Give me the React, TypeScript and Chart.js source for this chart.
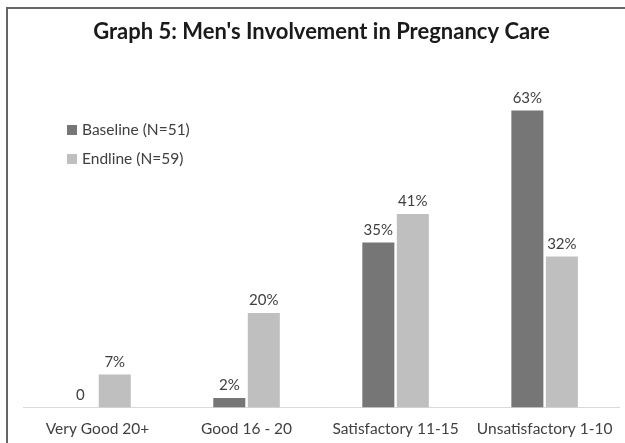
import React, { useEffect, useRef } from "react";
import { Chart, registerables } from "chart.js";

Chart.register(...registerables);

const categories = ["Very Good 20+", "Good 16 - 20", "Satisfactory 11-15", "Unsatisfactory 1-10"];
const baselineValues = [0, 2, 35, 63];
const endlineValues = [7, 20, 41, 32];
const baselineLabels = ["0", "2%", "35%", "63%"];
const endlineLabels = ["7%", "20%", "41%", "32%"];
const seriesNames = ["Baseline (N=51)", "Endline (N=59)"];
const titleText = "Graph 5: Men's Involvement in Pregnancy Care";

const FONT = "Lato, 'Open Sans', sans-serif";
const TEXT = "#404040";

const valueLabelPlugin = {
  id: "valueLabels",
  afterDatasetsDraw(chart: any) {
    const ctx = chart.ctx;
    ctx.save();
    ctx.font = `15px ${FONT}`;
    ctx.fillStyle = TEXT;
    ctx.textAlign = "center";
    ctx.textBaseline = "bottom";
    const labelSets = [baselineLabels, endlineLabels];
    chart.data.datasets.forEach((ds: any, di: number) => {
      const meta = chart.getDatasetMeta(di);
      meta.data.forEach((el: any, i: number) => {
        ctx.fillText(labelSets[di][i], el.x, el.y - 5);
      });
    });
    ctx.restore();
  },
};

const innerLegendPlugin = {
  id: "innerLegend",
  afterDraw(chart: any) {
    const ctx = chart.ctx;
    ctx.save();
    ctx.font = `15.5px ${FONT}`;
    ctx.textBaseline = "middle";
    ctx.textAlign = "left";
    const x = 67;
    const ys = [130, 159];
    chart.data.datasets.forEach((ds: any, i: number) => {
      ctx.fillStyle = ds.backgroundColor;
      ctx.fillRect(x, ys[i] - 5, 10, 10);
      ctx.fillStyle = TEXT;
      ctx.fillText(ds.label, x + 15, ys[i]);
    });
    ctx.restore();
  },
};

export default function App() {
  const canvasRef = useRef<HTMLCanvasElement | null>(null);

  useEffect(() => {
    if (!canvasRef.current) return;
    const chart = new Chart(canvasRef.current, {
      type: "bar",
      data: {
        labels: categories,
        datasets: [
          {
            label: seriesNames[0],
            data: baselineValues,
            backgroundColor: "#767676",
            categoryPercentage: 0.463,
            barPercentage: 0.928,
          },
          {
            label: seriesNames[1],
            data: endlineValues,
            backgroundColor: "#bfbfbf",
            categoryPercentage: 0.463,
            barPercentage: 0.928,
          },
        ],
      },
      options: {
        animation: false,
        responsive: false,
        layout: { padding: { left: 23, right: 5, top: 0, bottom: -7 } },
        plugins: {
          legend: { display: false },
          tooltip: { enabled: false },
          title: {
            display: true,
            text: titleText,
            color: "#1a1a1a",
            font: { family: FONT, size: 22, weight: "bold" },
            padding: { top: 19, bottom: 32 },
          },
        },
        scales: {
          x: {
            grid: { display: false, drawTicks: false },
            border: { display: true, color: "#d9d9d9", width: 1 },
            ticks: { color: TEXT, font: { family: FONT, size: 15.5 }, padding: 12 },
          },
          y: {
            display: false,
            min: 0,
            max: 70,
          },
        },
      },
      plugins: [valueLabelPlugin, innerLegendPlugin],
    });
    return () => chart.destroy();
  }, []);

  return (
    <div style={{ position: "fixed", left: 0, top: 0, width: 625, height: 443, background: "#fff", overflow: "hidden" }}>
      <canvas ref={canvasRef} width={625} height={443} style={{ position: "absolute", left: 0, top: 0 }} />
      <div
        style={{
          position: "absolute",
          left: 6,
          top: 7,
          width: 700,
          height: 500,
          border: "2px solid #666",
          pointerEvents: "none",
        }}
      />
    </div>
  );
}
